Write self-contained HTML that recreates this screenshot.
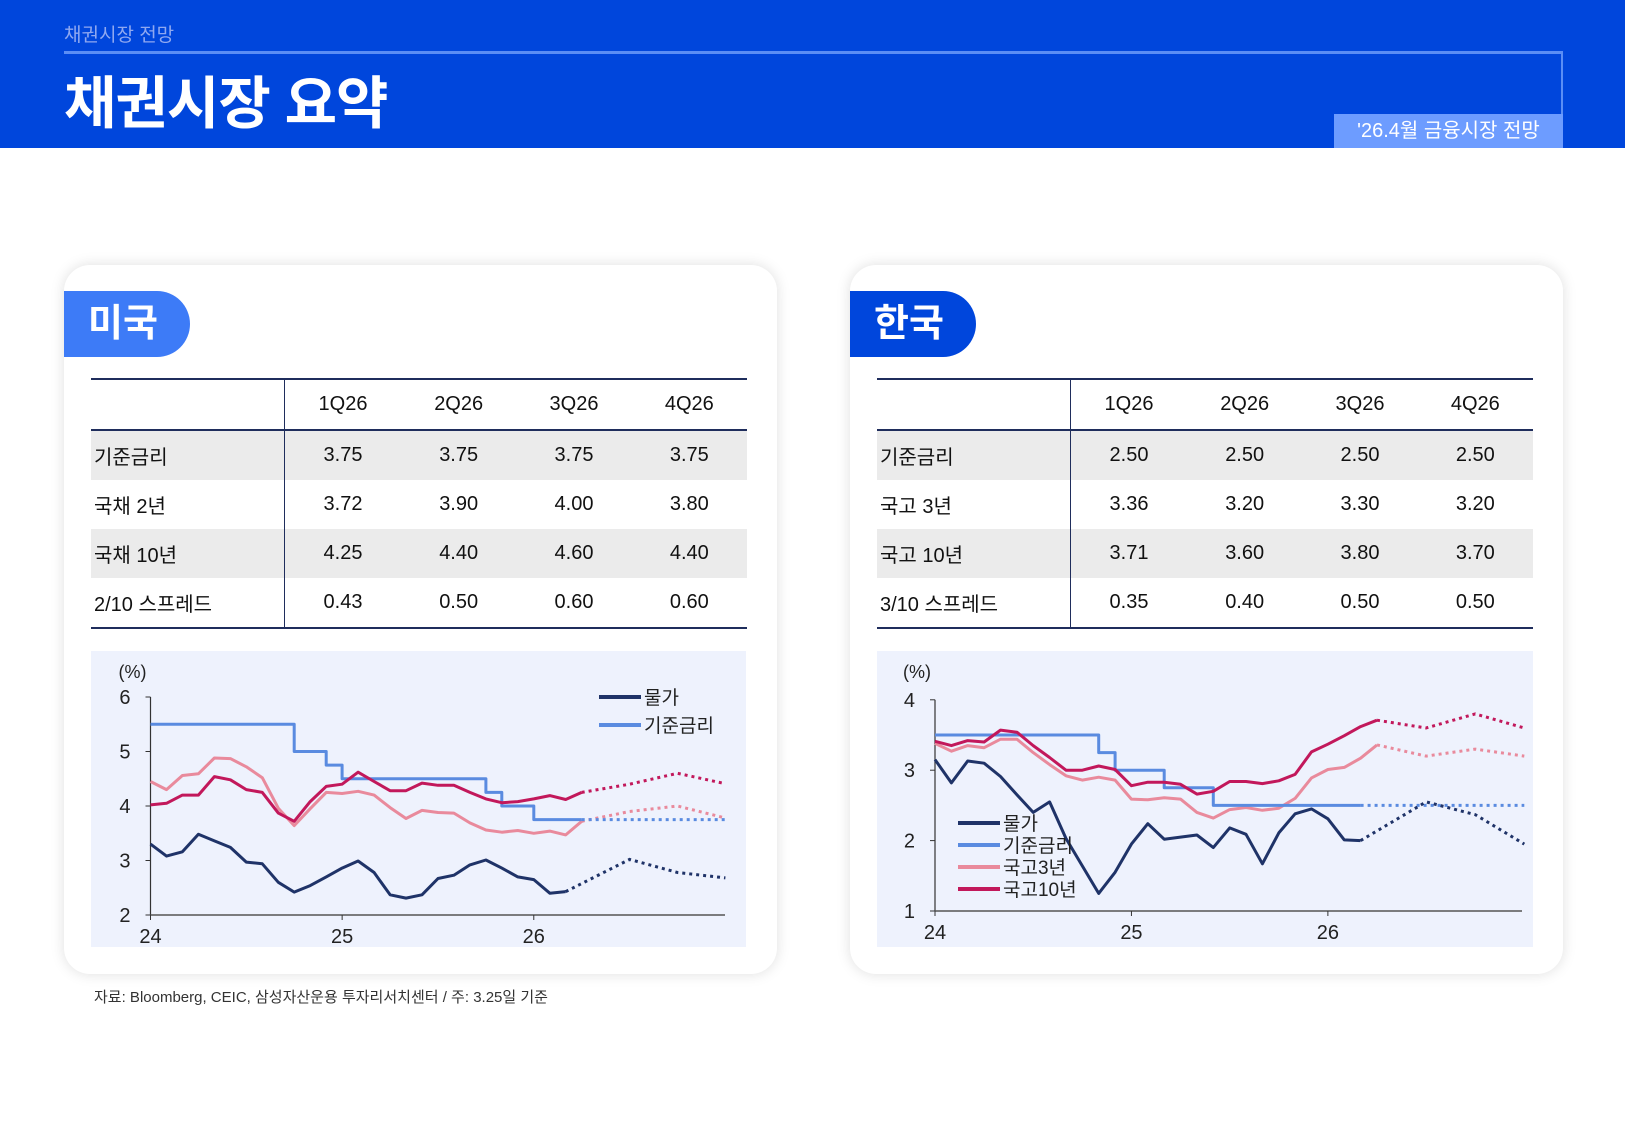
<!DOCTYPE html>
<html><head><meta charset="utf-8">
<style>
body{margin:0;width:1625px;height:1125px;background:#fff;position:relative;overflow:hidden;font-family:"Liberation Sans","Noto Sans CJK KR",sans-serif;}
.hdr{position:absolute;left:0;top:0;width:1625px;height:148px;background:#0046DC;}
.sub{position:absolute;left:64px;top:20px;font-size:19px;color:#8fa8f0;}
.hl{position:absolute;left:64px;top:51px;width:1499px;height:3px;background:#5b8ef5;}
.vl{position:absolute;left:1561px;top:51px;width:2px;height:64px;background:#5b8ef5;}
.title{position:absolute;left:64px;top:58px;font-size:57px;font-weight:bold;color:#fff;letter-spacing:-1px;}
.badge{position:absolute;left:1334px;top:114px;width:229px;height:34px;background:#6d9cff;color:#fff;font-size:20px;line-height:34px;text-align:center;}
.card{position:absolute;top:265px;width:713px;height:709px;background:#fff;border-radius:26px;box-shadow:0 0 14px rgba(0,0,0,0.13);}
.tag{position:absolute;left:0;top:26px;width:126px;height:66px;border-radius:0 33px 33px 0;color:#fff;font-size:38px;font-weight:bold;line-height:66px;padding-left:24px;box-sizing:border-box;}
table{position:absolute;left:27px;top:113px;width:656px;border-collapse:collapse;font-size:20px;color:#111;}
td{height:49px;padding:0;text-align:center;}
td:first-child{text-align:left;width:190px;border-right:1.5px solid #1f2d5c;padding-left:3px;}
tr.g td{background:#ebebeb;}
.src{position:absolute;left:94px;top:986px;font-size:15px;color:#333;}
svg{position:absolute;left:0;top:0;}
</style></head><body>
<div class="hdr"></div>
<div class="sub">채권시장 전망</div>
<div class="hl"></div><div class="vl"></div>
<div class="title">채권시장 요약</div>
<div class="badge">'26.4월 금융시장 전망</div>

<div class="card" style="left:64px">
<div class="tag" style="background:#3d7bf7">미국</div>
<table>
<tr style="border-top:2px solid #1f2d5c;border-bottom:2px solid #1f2d5c"><td></td><td>1Q26</td><td>2Q26</td><td>3Q26</td><td>4Q26</td></tr>
<tr class="g"><td>기준금리</td><td>3.75</td><td>3.75</td><td>3.75</td><td>3.75</td></tr>
<tr><td>국채 2년</td><td>3.72</td><td>3.90</td><td>4.00</td><td>3.80</td></tr>
<tr class="g"><td>국채 10년</td><td>4.25</td><td>4.40</td><td>4.60</td><td>4.40</td></tr>
<tr style="border-bottom:2px solid #1f2d5c"><td>2/10 스프레드</td><td>0.43</td><td>0.50</td><td>0.60</td><td>0.60</td></tr>
</table>
</div>
<div class="card" style="left:850px">
<div class="tag" style="background:#0046DC">한국</div>
<table>
<tr style="border-top:2px solid #1f2d5c;border-bottom:2px solid #1f2d5c"><td></td><td>1Q26</td><td>2Q26</td><td>3Q26</td><td>4Q26</td></tr>
<tr class="g"><td>기준금리</td><td>2.50</td><td>2.50</td><td>2.50</td><td>2.50</td></tr>
<tr><td>국고 3년</td><td>3.36</td><td>3.20</td><td>3.30</td><td>3.20</td></tr>
<tr class="g"><td>국고 10년</td><td>3.71</td><td>3.60</td><td>3.80</td><td>3.70</td></tr>
<tr style="border-bottom:2px solid #1f2d5c"><td>3/10 스프레드</td><td>0.35</td><td>0.40</td><td>0.50</td><td>0.50</td></tr>
</table>
</div>
<div class="src">자료: Bloomberg, CEIC, 삼성자산운용 투자리서치센터 / 주: 3.25일 기준</div>

<svg id="s" width="1625" height="1125" xmlns="http://www.w3.org/2000/svg" font-family="Liberation Sans, Noto Sans CJK KR, sans-serif"></svg>
<script>
var S=document.getElementById('s'),h='';
var C={inf:'#1f3368',rate:'#5a8be0',y2:'#e98a9c',y10:'#c2185b'};
function chart(o){
 h+='<rect x="'+o.bx+'" y="651" width="'+o.bw+'" height="296" fill="#eef2fd"/>';
 var X=function(m){return o.x0+m*o.mx},Y=function(v){return o.yb-(v-o.vmin)*o.vy};
 h+='<line x1="'+o.x0+'" y1="'+Y(o.vmax)+'" x2="'+o.x0+'" y2="'+o.yb+'" stroke="#333" stroke-width="1.2"/>';
 h+='<line x1="'+o.x0+'" y1="'+o.yb+'" x2="'+o.xe+'" y2="'+o.yb+'" stroke="#555" stroke-width="1.5"/>';
 for(var v=o.vmin;v<=o.vmax;v++){h+='<line x1="'+(o.x0-5)+'" y1="'+Y(v)+'" x2="'+o.x0+'" y2="'+Y(v)+'" stroke="#333"/><text x="'+(o.x0-20)+'" y="'+(Y(v)+7)+'" font-size="20" text-anchor="end" fill="#222">'+v+'</text>';}
 ['24','25','26'].forEach(function(t,i){var x=X(i*12);h+='<line x1="'+x+'" y1="'+o.yb+'" x2="'+x+'" y2="'+(o.yb+5)+'" stroke="#333"/><text x="'+x+'" y="'+(o.yb+28)+'" font-size="20" text-anchor="middle" fill="#222">'+t+'</text>';});
 h+='<text x="'+(o.x0-32)+'" y="678" font-size="18" fill="#222">(%)</text>';
 o.ser.forEach(function(s){
  var p;
  if(s.st){p=s.st.map(function(a){return X(a[0]).toFixed(1)+','+Y(a[1]).toFixed(1)}).join(' ');}
  else{p=s.d.map(function(v,i){return X(i).toFixed(1)+','+Y(v).toFixed(1)}).join(' ');}
  h+='<polyline points="'+p+'" fill="none" stroke="'+s.c+'" stroke-width="3" stroke-linejoin="round"/>';
  h+='<polyline points="'+s.f.map(function(a){return X(a[0]).toFixed(1)+','+Y(a[1]).toFixed(1)}).join(' ')+'" fill="none" stroke="'+s.c+'" stroke-width="3" stroke-dasharray="3,4"/>';
 });
 o.leg.forEach(function(l){h+='<line x1="'+l[0]+'" y1="'+l[1]+'" x2="'+(l[0]+42)+'" y2="'+l[1]+'" stroke="'+l[3]+'" stroke-width="4"/><text x="'+(l[0]+45)+'" y="'+(l[1]+7)+'" font-size="19" fill="#222">'+l[2]+'</text>';});
}
function steps(a,end){var r=[];for(var i=0;i<a.length;i++){var s=a[i][0],e=i+1<a.length?a[i+1][0]:end;r.push([s,a[i][1]],[e,a[i][1]]);}return r;}
chart({bx:91,bw:655,x0:150.5,mx:15.97,yb:915,vmin:2,vmax:6,vy:54.5,xe:725,
 ser:[
 {c:C.y2,d:[4.45,4.3,4.56,4.59,4.88,4.87,4.72,4.52,3.96,3.64,3.95,4.25,4.23,4.27,4.2,3.97,3.77,3.92,3.88,3.87,3.69,3.56,3.52,3.55,3.5,3.54,3.47,3.72],f:[[27,3.72],[30,3.9],[33,4.0],[36,3.78]]},
 {c:C.rate,st:steps([[0,5.5],[9,5.0],[11,4.75],[12,4.5],[21,4.25],[22,4.0],[24,3.75]],27),f:[[27,3.75],[36,3.75]]},
 {c:C.y10,d:[4.02,4.05,4.2,4.2,4.54,4.48,4.3,4.25,3.87,3.72,4.08,4.36,4.4,4.62,4.45,4.28,4.28,4.42,4.38,4.38,4.25,4.13,4.06,4.08,4.13,4.19,4.12,4.25],f:[[27,4.25],[30,4.4],[33,4.6],[36,4.41]]},
 {c:C.inf,d:[3.3,3.08,3.16,3.48,3.36,3.24,2.97,2.94,2.6,2.42,2.54,2.7,2.86,2.99,2.78,2.37,2.31,2.37,2.67,2.73,2.92,3.01,2.86,2.7,2.65,2.4,2.43],f:[[26,2.43],[30,3.02],[33,2.78],[36,2.68]]}
 ],leg:[[599,697,'물가',C.inf],[599,725,'기준금리',C.rate]]});
chart({bx:877,bw:656,x0:935,mx:16.37,yb:911,vmin:1,vmax:4,vy:70.4,xe:1522,
 ser:[
 {c:C.y2,d:[3.38,3.27,3.35,3.32,3.44,3.44,3.25,3.08,2.92,2.86,2.9,2.86,2.59,2.58,2.61,2.59,2.4,2.32,2.44,2.47,2.43,2.46,2.6,2.89,3.01,3.04,3.17,3.36],f:[[27,3.36],[30,3.2],[33,3.3],[36,3.2]]},
 {c:C.rate,st:steps([[0,3.5],[10,3.25],[11,3.0],[14,2.75],[17,2.5]],26),f:[[26,2.5],[36,2.5]]},
 {c:C.y10,d:[3.41,3.35,3.42,3.4,3.57,3.54,3.35,3.18,3.0,3.0,3.06,3.01,2.78,2.83,2.83,2.8,2.66,2.7,2.84,2.84,2.81,2.85,2.94,3.26,3.37,3.49,3.62,3.71],f:[[27,3.71],[30,3.6],[33,3.8],[36,3.6]]},
 {c:C.inf,d:[3.15,2.82,3.13,3.1,2.91,2.65,2.4,2.55,2.03,1.64,1.25,1.55,1.95,2.24,2.02,2.05,2.08,1.9,2.18,2.09,1.67,2.11,2.38,2.45,2.31,2.01,2.0],f:[[26,2.0],[30,2.55],[33,2.37],[36,1.95]]}
 ],leg:[[958,823,'물가',C.inf],[958,845,'기준금리',C.rate],[958,867,'국고3년',C.y2],[958,889,'국고10년',C.y10]]});
S.innerHTML=h;
</script>
</body></html>
